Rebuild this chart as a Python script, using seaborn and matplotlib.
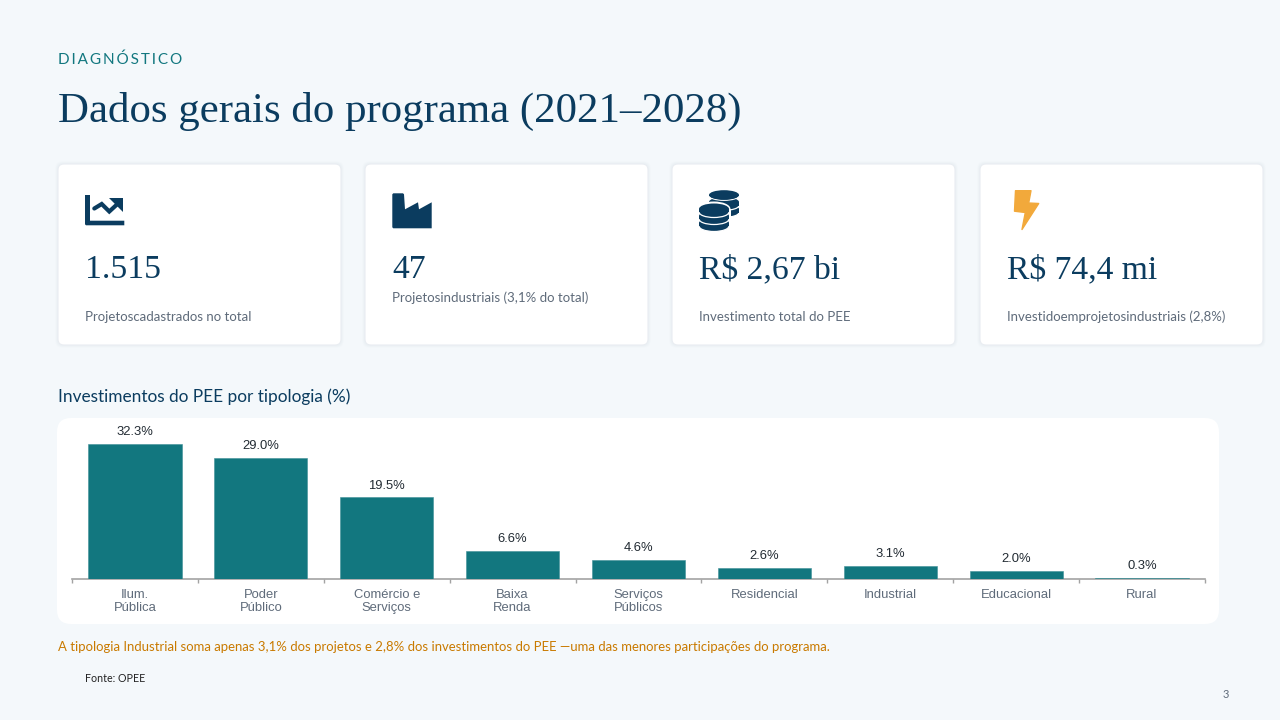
import numpy as np
import pandas as pd
import seaborn as sns
from matplotlib import pyplot as plt
from matplotlib.patches import Ellipse, FancyBboxPatch, Polygon, Rectangle

# %% Data
Categories = ['Ilum.\nPública', 'Poder\nPúblico', 'Comércio e\nServiços', 'Baixa\nRenda',
              'Serviços\nPúblicos', 'Residencial', 'Industrial', 'Educacional', 'Rural']
Shares = [32.3, 29.0, 19.5, 6.6, 4.6, 2.6, 3.1, 2.0, 0.3]

CardValues = ['1.515', '47', 'R$ 2,67 bi', 'R$ 74,4 mi']
CardLabels = ['Projetoscadastrados no total',
              'Projetosindustriais (3,1% do total)',
              'Investimento total do PEE',
              'Investidoemprojetosindustriais (2,8%)']
CardLefts = [58, 365, 672, 980]
LabelY = [317, 298, 317, 317]

NAVY = '#0b3c5f'
TEAL = '#12777f'
GREY = '#5f6b7a'
ORANGE = '#f2a93b'
SERIF = 'Liberation Serif'
BODY = 'Lato'

sns.set_theme(style='white')
plt.rcParams['font.family'] = [BODY, 'DejaVu Sans']

fig = plt.figure(figsize=(12.8, 7.2), dpi=100, facecolor='#f4f8fb')

# %% Background layer in pixel coordinates
bg = fig.add_axes([0, 0, 1, 1])
bg.set_xlim(0, 1280)
bg.set_ylim(720, 0)
bg.axis('off')


def round_box(x0, y0, x1, y1, r, **kw):
    bg.add_patch(FancyBboxPatch((x0 + r, y0 + r), x1 - x0 - 2 * r, y1 - y0 - 2 * r,
                                boxstyle=f'round,pad={r},rounding_size={r}', **kw))


for left in CardLefts:
    right = left + 283
    for grow, alpha in ((2.5, 0.10), (1.5, 0.14)):
        round_box(left - grow, 164 - grow, right + grow, 345 + grow, 7,
                  fc='#d5dde6', ec='none', alpha=alpha)
    round_box(left, 164, right, 345, 6, fc='white', ec='#e9edf2', lw=0.8)

round_box(57, 418, 1219, 624, 14, fc='white', ec='none')


# %% Icons
def chart_icon():
    bg.add_patch(Polygon([(85, 195), (90, 195), (90, 220.7), (124.3, 220.7), (124.3, 225.3),
                          (86, 225.3), (85, 224.3)], fc=NAVY, ec='none'))
    bg.plot([94.3, 101.7, 109.3, 118], [208.5, 204, 211.5, 203.5], color=NAVY, lw=3,
            solid_joinstyle='miter')
    bg.add_patch(Polygon([(109.3, 198.3), (122.7, 198.3), (122.7, 211.7)], fc=NAVY, ec='none'))


def factory_icon():
    bg.add_patch(Polygon([(392.3, 194.3), (393.3, 193.3), (403, 193.3), (404, 194.3), (405, 209.3),
                          (418, 202.3), (419, 209.3), (431.7, 202.3), (431.7, 228.3),
                          (393.3, 228.3), (392.3, 227.3)], fc=NAVY, ec='none'))


def disc(cx, top, rx, ry, h):
    bg.add_patch(Ellipse((cx, top + h), 2 * rx, 2 * ry, fc=NAVY, ec='white', lw=0.9))
    bg.add_patch(Rectangle((cx - rx, top), 2 * rx, h, fc=NAVY, ec='none'))
    bg.add_patch(Ellipse((cx, top), 2 * rx, 2 * ry, fc=NAVY, ec='none'))


def coins_icon():
    for top in (209, 202, 195):
        disc(724, top, 15, 4.8, 3.5 if top != 195 else 0.5)
    bg.add_patch(Ellipse((714, 209), 33, 15, fc='white', ec='none'))
    bg.add_patch(Rectangle((697.5, 209), 33, 12, fc='white', ec='none'))
    for top in (223, 216, 209):
        disc(714, top, 15, 5.5, 3)


def bolt_icon():
    bg.add_patch(Polygon([(1015.5, 190.7), (1031, 190.7), (1028.7, 203), (1038.7, 203.5),
                          (1022, 229.5), (1025.3, 212.5), (1014.5, 211.2)],
                         fc=ORANGE, ec=ORANGE, lw=1, joinstyle='round'))


chart_icon()
factory_icon()
coins_icon()
bolt_icon()

# %% Text
bg.text(58, 60, '\u2009'.join('DIAGNÓSTICO'), color=TEAL, fontsize=11, va='center')
bg.text(58, 111, 'Dados gerais do programa (2021–2028)', color=NAVY, fontsize=30.9,
        va='center', family=SERIF)
for left, val, lab, ly in zip(CardLefts, CardValues, CardLabels, LabelY):
    bg.text(left + 27, 270, val, color=NAVY, fontsize=24.2, va='center', family=SERIF)
    bg.text(left + 27, ly, lab, color=GREY, fontsize=9.55, va='center')
bg.text(58, 397, 'Investimentos do PEE por tipologia (%)', color=NAVY, fontsize=12.4, va='center')
bg.text(58, 647, 'A tipologia Industrial soma apenas 3,1% dos projetos e 2,8% dos investimentos do PEE —'
        'uma das menores participações do programa.', color='#c97a00', fontsize=9.45, va='center')
bg.text(85, 678, 'Fonte: OPEE', color='#222222', fontsize=7.7, va='center')
bg.text(1226, 695, '3', color=GREY, fontsize=8, va='center', ha='center')

# %% Bars
ax = fig.add_axes([72 / 1280, (720 - 579) / 720, (1205 - 72) / 1280, 160 / 720])
ax.patch.set_alpha(0)
dfShares = pd.DataFrame({'Tipologia': Categories, 'Share': Shares})
sns.barplot(data=dfShares, x='Tipologia', y='Share', ax=ax, color=TEAL, saturation=1,
            width=0.74, edgecolor='#3f9097', linewidth=0.4, zorder=3)
ax.set_xlim(-0.5, len(Categories) - 0.5)
ax.set_ylim(0, 160 / 4.18)
ax.set_xlabel('')
ax.set_ylabel('')
ax.set_yticks([])
sns.despine(ax=ax, left=True)
ax.spines['bottom'].set_color('#a3a3a3')
ax.spines['bottom'].set_linewidth(1.2)
ax.set_xticks(np.arange(-0.5, len(Categories)), minor=True)
ax.tick_params(axis='x', which='minor', bottom=True, length=3, width=1, color='#a3a3a3')
ax.tick_params(axis='x', which='major', bottom=False, length=0, pad=6.9, labelsize=9.4,
               labelcolor=GREY)
for lab in ax.get_xticklabels():
    lab.set_family('Liberation Sans')
ax.bar_label(ax.containers[0], fmt='%.1f%%', padding=4.3, fontsize=9.4, color='#222b33',
             family='Liberation Sans')

fig.savefig('out.png', dpi=100, facecolor=fig.get_facecolor())
